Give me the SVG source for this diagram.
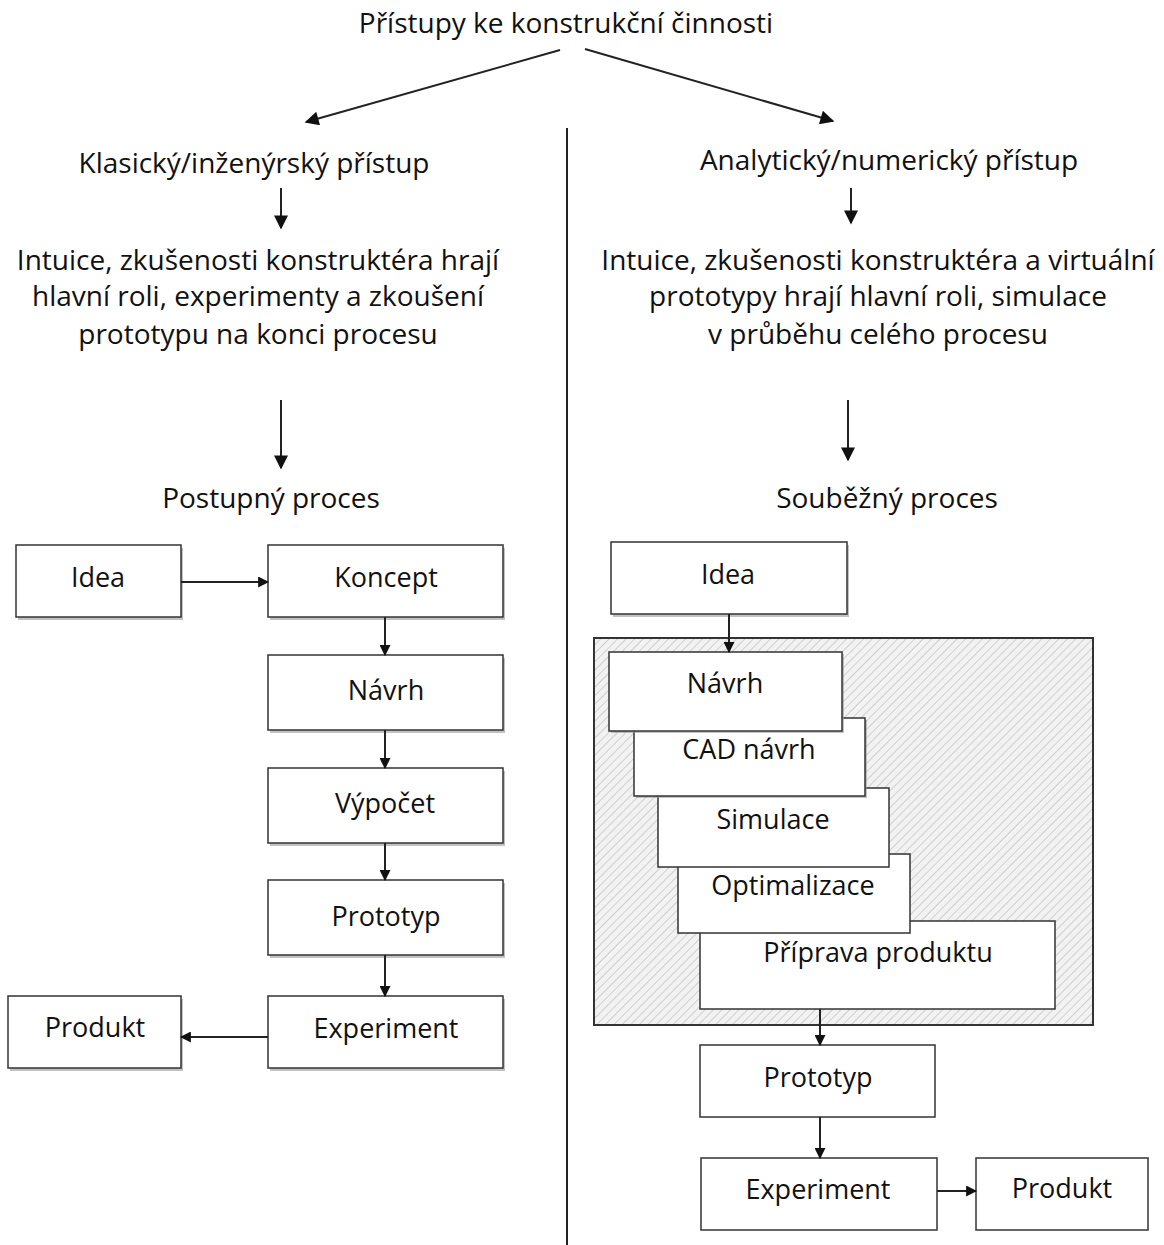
<svg xmlns="http://www.w3.org/2000/svg" width="1164" height="1245" viewBox="0 0 1164 1245">
<defs>
<style>
text{font-family:"Open Sans","Noto Sans","Liberation Sans",sans-serif;font-size:28px;fill:#111;text-anchor:middle}
.n{font-size:27px}
.box{fill:#fff;stroke:#333;stroke-width:1.5}
.sh{fill:#999;opacity:0.6}
.ln{stroke:#222;stroke-width:2;fill:none}
</style>
<marker id="ah" viewBox="0 0 10 10" refX="9" refY="5" markerWidth="11" markerHeight="11" orient="auto" markerUnits="userSpaceOnUse">
<path d="M0,0 L10,5 L0,10 z" fill="#111"/>
</marker>
<marker id="ahb" viewBox="0 0 10 10" refX="9" refY="5" markerWidth="18" markerHeight="14" orient="auto" markerUnits="userSpaceOnUse">
<path d="M0,0 L10,5 L0,10 z" fill="#111"/>
</marker>
<pattern id="hatch" width="6" height="6" patternUnits="userSpaceOnUse" patternTransform="rotate(45)">
<rect width="6" height="6" fill="#f2f2f2"/>
<line x1="0" y1="0" x2="0" y2="6" stroke="#cfcfcf" stroke-width="2"/>
</pattern>
</defs>
<rect width="1164" height="1245" fill="#fff"/>

<g id="title"><text x="566" y="33">Přístupy ke konstrukční činnosti</text></g>
<g id="left-head"><text x="254" y="173">Klasický/inženýrský přístup</text></g>
<g id="left-desc">
<text x="258" y="270">Intuice, zkušenosti konstruktéra hrají</text>
<text x="258" y="306">hlavní roli, experimenty a zkoušení</text>
<text x="258" y="344">prototypu na konci procesu</text>
</g>
<g id="left-proc"><text x="271" y="508">Postupný proces</text></g>
<g id="right-head"><text x="889" y="170">Analytický/numerický přístup</text></g>
<g id="right-desc">
<text x="878" y="270">Intuice, zkušenosti konstruktéra a virtuální</text>
<text x="878" y="306">prototypy hrají hlavní roli, simulace</text>
<text x="878" y="344">v průběhu celého procesu</text>
</g>
<g id="right-proc"><text x="887" y="508">Souběžný proces</text></g>

<g id="divider"><line x1="567" y1="128" x2="567" y2="1245" class="ln"/></g>

<g id="concurrent-area">
<rect x="594" y="638" width="499" height="387" fill="url(#hatch)" stroke="#333" stroke-width="2"/>
</g>

<g id="L-idea"><rect class="sh" x="18" y="548" width="165" height="72"/><rect class="box" x="16" y="545" width="165" height="72"/><text class="n" x="98" y="587">Idea</text></g>
<g id="L-koncept"><rect class="sh" x="270" y="548" width="235" height="72"/><rect class="box" x="268" y="545" width="235" height="72"/><text class="n" x="386" y="587">Koncept</text></g>
<g id="L-navrh"><rect class="sh" x="270" y="658" width="235" height="75"/><rect class="box" x="268" y="655" width="235" height="75"/><text class="n" x="386" y="700">Návrh</text></g>
<g id="L-vypocet"><rect class="sh" x="270" y="771" width="235" height="75"/><rect class="box" x="268" y="768" width="235" height="75"/><text class="n" x="385" y="813">Výpočet</text></g>
<g id="L-prototyp"><rect class="sh" x="270" y="883" width="235" height="75"/><rect class="box" x="268" y="880" width="235" height="75"/><text class="n" x="386" y="926">Prototyp</text></g>
<g id="L-experiment"><rect class="sh" x="270" y="999" width="235" height="72"/><rect class="box" x="268" y="996" width="235" height="72"/><text class="n" x="386" y="1038">Experiment</text></g>
<g id="L-produkt"><rect class="sh" x="10" y="999" width="173" height="72"/><rect class="box" x="8" y="996" width="173" height="72"/><text class="n" x="95" y="1037">Produkt</text></g>

<g id="R-idea"><rect class="sh" x="613" y="545" width="236" height="72"/><rect class="box" x="611" y="542" width="236" height="72"/><text class="n" x="728" y="584">Idea</text></g>
<g id="R-priprava"><rect class="box" x="700" y="921" width="355" height="88"/><text class="n" x="878" y="962">Příprava produktu</text></g>
<g id="R-optimalizace"><rect class="box" x="678" y="854" width="232" height="79"/><text class="n" x="793" y="895">Optimalizace</text></g>
<g id="R-simulace"><rect class="box" x="658" y="788" width="231" height="79"/><text class="n" x="773" y="829">Simulace</text></g>
<g id="R-cad"><rect class="sh" x="636" y="720" width="231" height="78"/><rect class="box" x="634" y="718" width="231" height="78"/><text class="n" x="749" y="759">CAD návrh</text></g>
<g id="R-navrh"><rect class="sh" x="611" y="654" width="233" height="79"/><rect class="box" x="609" y="652" width="233" height="79"/><text class="n" x="725" y="693">Návrh</text></g>
<g id="R-prototyp"><rect class="box" x="700" y="1045" width="235" height="72"/><text class="n" x="818" y="1087">Prototyp</text></g>
<g id="R-experiment"><rect class="box" x="701" y="1158" width="236" height="72"/><text class="n" x="818" y="1199">Experiment</text></g>
<g id="R-produkt"><rect class="box" x="976" y="1158" width="172" height="72"/><text class="n" x="1062" y="1198">Produkt</text></g>

<g id="connectors">
<line class="ln" x1="560" y1="50" x2="306" y2="122" marker-end="url(#ahb)"/>
<line class="ln" x1="585" y1="49" x2="833" y2="121" marker-end="url(#ahb)"/>
<line class="ln" x1="281" y1="188" x2="281" y2="228" marker-end="url(#ahb)"/>
<line class="ln" x1="281" y1="400" x2="281" y2="468" marker-end="url(#ahb)"/>
<line class="ln" x1="851" y1="188" x2="851" y2="223" marker-end="url(#ahb)"/>
<line class="ln" x1="848" y1="400" x2="848" y2="460" marker-end="url(#ahb)"/>
<line class="ln" x1="181" y1="582" x2="268" y2="582" marker-end="url(#ah)"/>
<line class="ln" x1="385" y1="617" x2="385" y2="655" marker-end="url(#ah)"/>
<line class="ln" x1="385" y1="730" x2="385" y2="768" marker-end="url(#ah)"/>
<line class="ln" x1="385" y1="843" x2="385" y2="880" marker-end="url(#ah)"/>
<line class="ln" x1="385" y1="955" x2="385" y2="996" marker-end="url(#ah)"/>
<line class="ln" x1="268" y1="1037" x2="181" y2="1037" marker-end="url(#ah)"/>
<line class="ln" x1="729" y1="614" x2="729" y2="652" marker-end="url(#ah)"/>
<line class="ln" x1="820" y1="1009" x2="820" y2="1045" marker-end="url(#ah)"/>
<line class="ln" x1="820" y1="1117" x2="820" y2="1158" marker-end="url(#ah)"/>
<line class="ln" x1="937" y1="1191" x2="976" y2="1191" marker-end="url(#ah)"/>
</g>
</svg>
